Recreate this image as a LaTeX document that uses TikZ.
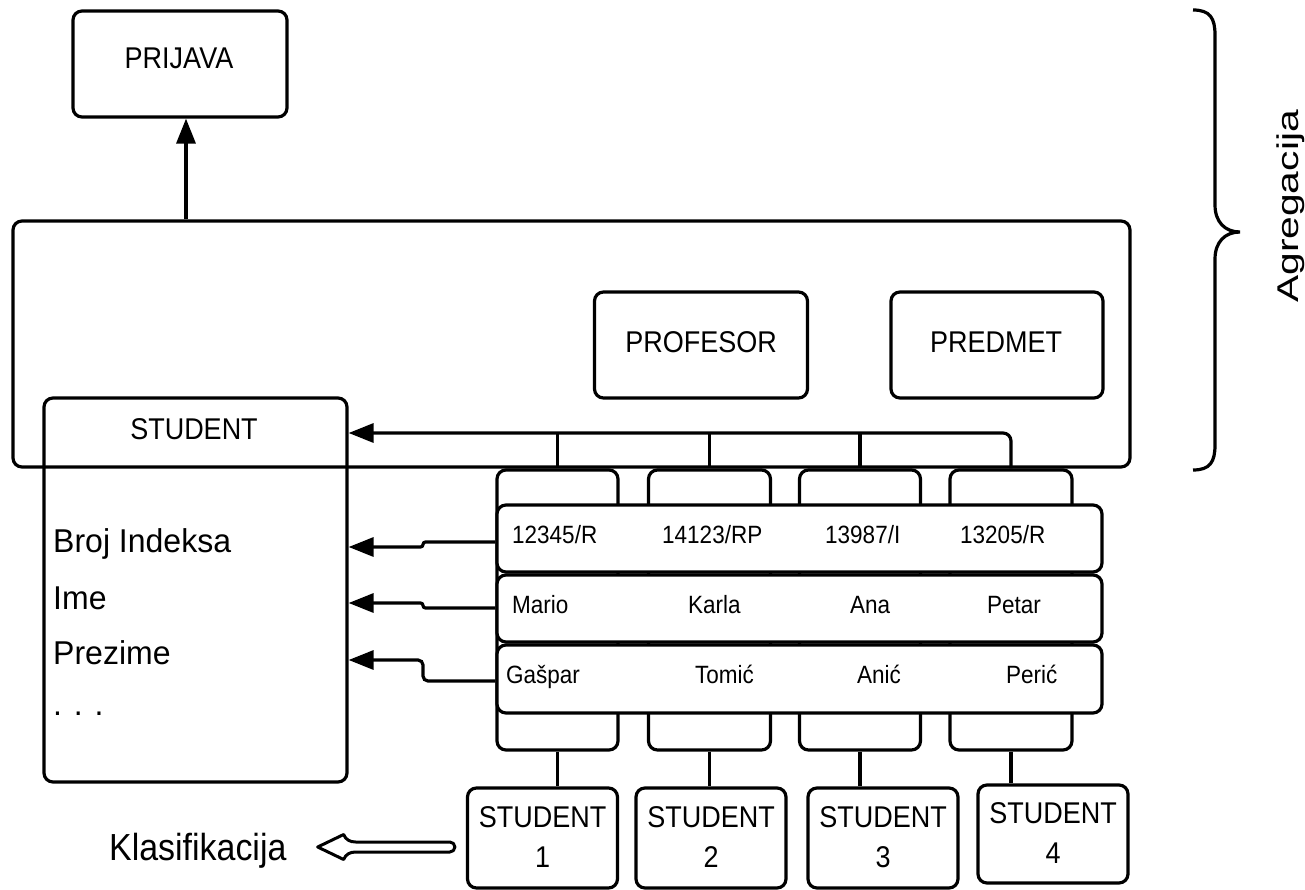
\documentclass[tikz,border=0pt]{standalone}
\usepackage{fontspec}
\setmainfont{Liberation Sans}[FakeStretch=0.9]
\newfontfamily\attrfont{Liberation Sans}[FakeStretch=0.97]
\usetikzlibrary{arrows.meta,calc}
\begin{document}
\begin{tikzpicture}[x=1pt,y=-1pt,
  box/.style={draw, line width=3.2pt, rounded corners=9pt, inner sep=0pt},
  rowbox/.style={box, fill=white, minimum width=605pt},
  colbox/.style={box, minimum height=280pt},
  sbox/.style={box, minimum width=150pt},
  lbl/.style={inner sep=0pt, anchor=base, font=\fontsize{30}{36}\selectfont},
  cell/.style={inner sep=0pt, anchor=base west, font=\fontsize{25}{30}\selectfont},
  attr/.style={inner sep=0pt, anchor=base west, font=\attrfont\fontsize{33}{40}\selectfont},
  wire/.style={line width=3.2pt},
  arr/.style={line width=3.2pt, -{Triangle[length=25pt,width=19pt]}},
]
\useasboundingbox (0,0) rectangle (1305,890);

% top entity and the aggregate frame
\node[box, minimum width=214pt, minimum height=106pt] (prij) at (180,64) {};
\node[lbl] (prijt) at (179,69) {PRIJAVA};
\node[box, minimum width=1117pt, minimum height=246pt] (agg) at (571.5,344) {};
\node[box, minimum width=213pt, minimum height=106pt] (prof) at (701,345) {};
\node[lbl] (proft) at (701,352) {PROFESOR};
\node[box, minimum width=212pt, minimum height=106pt] (pred) at (997,345) {};
\node[lbl] (predt) at (996,352) {PREDMET};

% STUDENT class with its attributes
\node[box, minimum width=303pt, minimum height=384pt] (stu) at (195.5,590) {};
\node[lbl] (stut) at (194,439) {STUDENT};
\node[attr] (a1) at (53,552) {Broj Indeksa};
\node[attr] (a2) at (53,609) {Ime};
\node[attr] (a3) at (53,664) {Prezime};
\node[attr] (a4) at (53,715) {. . .};

% instance columns behind the value rows
\node[colbox, minimum width=121pt] (c1) at (557.5,610) {};
\node[colbox, minimum width=122pt] (c2) at (709.5,610) {};
\node[colbox, minimum width=121pt] (c3) at (860,610) {};
\node[colbox, minimum width=122pt] (c4) at (1011,610) {};

\node[rowbox, minimum height=67pt] (r1) at (799.5,538.5) {};
\node[rowbox, minimum height=67pt] (r2) at (799.5,608.5) {};
\node[rowbox, minimum height=68pt] (r3) at (799.5,679) {};

\node[cell] (v11) at (512,543) {12345/R};
\node[cell] (v12) at (662,543) {14123/RP};
\node[cell] (v13) at (825,543) {13987/I};
\node[cell] (v14) at (960,543) {13205/R};
\node[cell] (v21) at (512,613) {Mario};
\node[cell] (v22) at (688,613) {Karla};
\node[cell] (v23) at (850,613) {Ana};
\node[cell] (v24) at (987,613) {Petar};
\node[cell] (v31) at (506,683) {Gašpar};
\node[cell] (v32) at (695,683) {Tomić};
\node[cell] (v33) at (857,683) {Anić};
\node[cell] (v34) at (1006,683) {Perić};

% individual students
\node[sbox, minimum height=100pt] (s1) at (542.5,838) {};
\node[sbox, minimum height=100pt] (s2) at (711,838) {};
\node[sbox, minimum height=100pt] (s3) at (883,838) {};
\node[sbox, minimum height=98pt] (s4) at (1053,834) {};
\node[lbl] (s1a) at (542.5,827) {STUDENT};
\node[lbl] (s1b) at (542.5,867) {1};
\node[lbl] (s2a) at (711,827) {STUDENT};
\node[lbl] (s2b) at (711,867) {2};
\node[lbl] (s3a) at (883,827) {STUDENT};
\node[lbl] (s3b) at (883,867) {3};
\node[lbl] (s4a) at (1053,823) {STUDENT};
\node[lbl] (s4b) at (1053,863) {4};

\node[inner sep=0pt, anchor=base west, font=\fontsize{37.7}{42}\selectfont] (klas) at (109,860) {Klasifikacija};

% side brace and its label
\draw[line width=3.2pt] (1193,10) .. controls (1210,10) and (1215,18) .. (1215,35)
  -- (1215,205) .. controls (1215,222) and (1225,232) .. (1240,232)
  .. controls (1225,232) and (1215,242) .. (1215,259)
  -- (1215,445) .. controls (1215,462) and (1210,470) .. (1193,470);
\node[rotate=90, anchor=base, inner sep=0pt, font=\fontsize{30}{32}\selectfont] (agr) at (1298,206.5) {\scalebox{1.51}[1]{Agregacija}};

% connectors
\draw[arr] (agg.north -| 186,0) -- (prij.south -| 186,0);
\draw[arr, rounded corners=8pt] (c4.north) |- (stu.east |- 0,433);
\draw[wire] (c1.north) -- (c1.north |- 0,433);
\draw[wire] (c2.north) -- (c2.north |- 0,433);
\draw[wire] (c3.north) -- (c3.north |- 0,433);

\draw[arr, rounded corners=2.5pt] (r1.west |- 0,542) -- (423,542) -- (423,547) -- (stu.east |- 0,547);
\draw[arr, rounded corners=2.5pt] (r2.west |- 0,608) -- (423,608) -- (423,603) -- (stu.east |- 0,603);
\draw[arr, rounded corners=5pt] (r3.west |- 0,681) -- (423,681) -- (423,660) -- (stu.east |- 0,660);

\draw[wire] (c1.south) -- (c1.south |- s1.north);
\draw[wire] (c2.south) -- (c2.south |- s2.north);
\draw[wire] (c3.south) -- (c3.south |- s3.north);
\draw[wire] (c4.south) -- (c4.south |- s4.north);

% hollow classification arrow, from STUDENT 1 towards the label
\coordinate (kb) at ($(klas.east |- 0,847)+(31,0)$);
\coordinate (ka) at ($(s1.west |- 0,847)+(-16,0)$);
\draw[line width=3pt, line join=round]
  (kb) -- ($(kb)+(26,-12.5)$) .. controls +(2,5) and +(-6,0) .. ($(kb)+(38,-5)$)
  -- ($(ka)+(0,-5)$) arc[start angle=-90, end angle=90, radius=5]
  -- ($(kb)+(38,5)$) .. controls +(-6,0) and +(2,-5) .. ($(kb)+(26,12.5)$) -- cycle;
\end{tikzpicture}
\end{document}
